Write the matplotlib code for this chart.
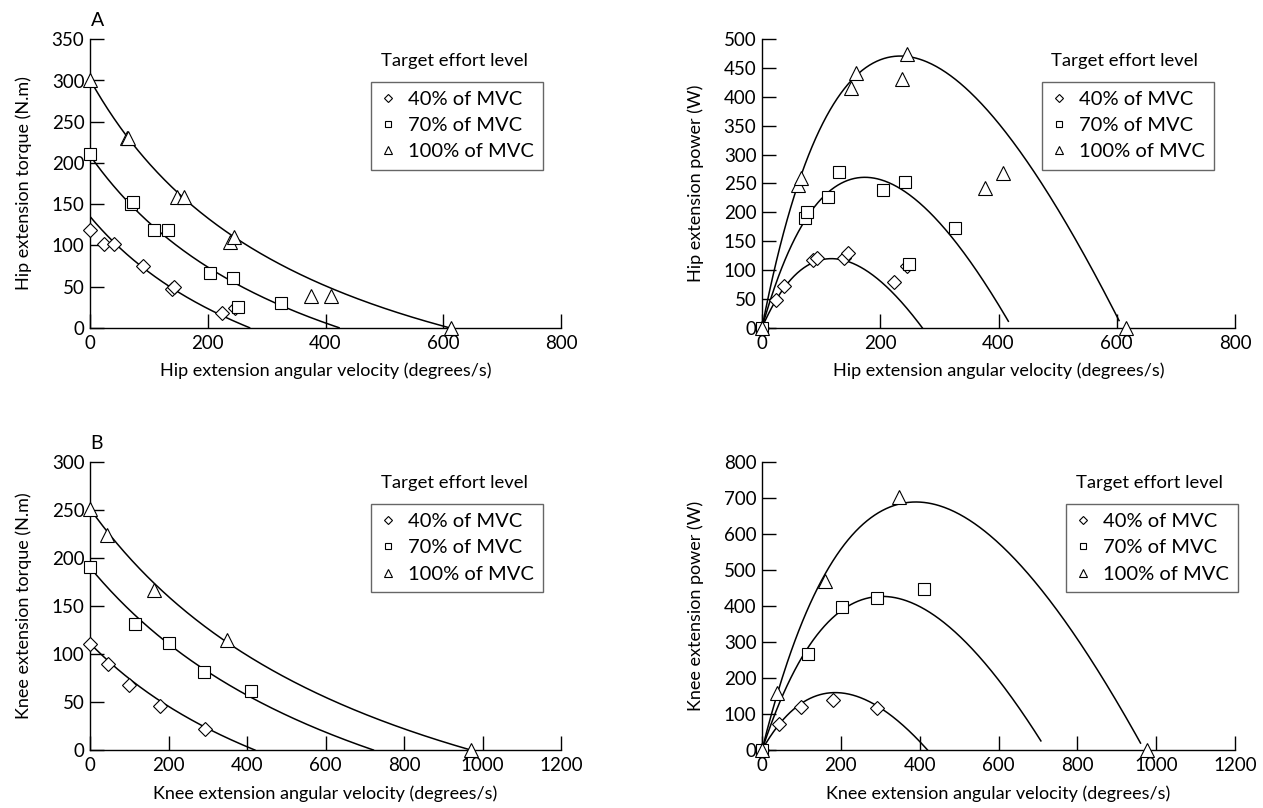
#!/usr/bin/env python3
"""Torque/power vs angular velocity for hip (A) and knee (B) extension."""
import numpy as np
import matplotlib
matplotlib.use("Agg")
import matplotlib.pyplot as plt
from matplotlib.lines import Line2D

plt.rcParams["font.family"] = ["Lato", "DejaVu Sans"]

LEVELS = ["40% of MVC", "70% of MVC", "100% of MVC"]
MARKERS = ["D", "s", "^"]
MSIZE = [7.3, 8, 9.5]

# hip torque (N.m) vs velocity (deg/s)
HIP_T_V = [[0, 24, 40, 90, 140, 143, 225, 246],
           [0, 70, 73, 109, 132, 204, 243, 251, 325],
           [0, 62, 65, 148, 160, 238, 245, 376, 409, 613]]
HIP_T = [[119, 102, 102, 75, 47, 50, 18, 24],
         [211, 150, 152, 118, 119, 66, 60, 25, 30],
         [301, 230, 230, 159, 159, 104, 110, 38, 38, 0]]
# hip power (W)
HIP_P_V = [[0, 23, 38, 87, 93, 139, 146, 224, 246],
           [0, 73, 76, 111, 131, 204, 242, 249, 326],
           [0, 61, 66, 150, 159, 237, 245, 377, 407, 615]]
HIP_P = [[0, 48, 72, 118, 121, 120, 130, 80, 107],
         [0, 191, 201, 227, 270, 238, 253, 110, 172],
         [0, 248, 260, 415, 442, 431, 474, 243, 269, 0]]
# knee torque
KNEE_T_V = [[0, 47, 100, 178, 293],
            [0, 115, 202, 291, 411],
            [0, 44, 164, 348, 970]]
KNEE_T = [[110, 89, 68, 46, 22],
          [190, 131, 111, 81, 61],
          [251, 224, 166, 114, 0]]
# knee power
KNEE_P_V = [[0, 43, 98, 179, 291],
            [0, 116, 202, 293, 412],
            [0, 37, 159, 347, 978]]
KNEE_P = [[0, 72, 118, 139, 116],
          [0, 266, 398, 421, 447],
          [0, 159, 469, 703, 0]]

# fitted Hill-type torque-velocity curves: T0, vmax, curvature
HIP_T0 = [135, 209, 301]
HIP_VMAX = [271, 423, 610]
HIP_C = [1.40, 0.95, 0.63]
HIP_PEND = [1.0, 0.985, 0.99]
KNEE_T0 = [111, 190, 251]
KNEE_VMAX = [420, 722, 970]
KNEE_C = [1.70, 1.14, 0.83]
KNEE_PEND = [1.0, 0.98, 0.99]


def hill(v, t0, vmax, c):
    x = v / vmax
    return t0 * (1 - x) / (1 + x / c)


def style(ax, xmax, ymax, ystep, xlabel, ylabel):
    ax.set_xlim(0, xmax)
    ax.set_ylim(0, ymax)
    ax.set_xticks(np.arange(0, xmax + 1, 200))
    ax.set_yticks(np.arange(0, ymax + 1, ystep))
    for s in ("top", "right"):
        ax.spines[s].set_visible(False)
    for s in ("left", "bottom"):
        ax.spines[s].set_linewidth(1.0)
    ax.tick_params(direction="in", length=10, width=1.0, labelsize=13.5)
    ax.tick_params(axis="x", pad=5)
    ax.tick_params(axis="y", pad=4)
    ax.set_xlabel(xlabel, fontsize=13, labelpad=8)
    ax.set_ylabel(ylabel, fontsize=13, labelpad=14)


def legend(ax, x, y):
    handles = [Line2D([], [], ls="none", marker=m, mfc="white", mec="black",
                      mew=0.8, ms=s * 0.6) for m, s in zip(MARKERS, MSIZE)]
    ax.text(x + 0.02, y + 0.072, "Target effort level", transform=ax.transAxes,
            fontsize=13.3, va="center", ha="left")
    lg = ax.legend(handles, LEVELS, loc="upper left", bbox_to_anchor=(x, y),
                   fontsize=14.5, frameon=True, fancybox=False, borderpad=0.45,
                   labelspacing=0.45, handlelength=0.8, handletextpad=0.6,
                   borderaxespad=0)
    lg.get_frame().set_edgecolor("0.25")
    lg.get_frame().set_linewidth(1.0)


def scatter(ax, xs, ys):
    for i in range(3):
        ax.plot(xs[i], ys[i], ls="none", marker=MARKERS[i], ms=MSIZE[i],
                mfc="white", mec="black", mew=0.8, clip_on=False, zorder=3)


fig = plt.figure(figsize=(12.63, 8.08), dpi=100)
W, H = 1263, 808
def add_ax(l, r, t, b):
    return fig.add_axes([l / W, 1 - b / H, (r - l) / W, (b - t) / H])

axA1 = add_ax(90, 561, 39.3, 327.7)
axA2 = add_ax(762, 1235, 39.3, 327.7)
axB1 = add_ax(90, 561, 461.7, 750)
axB2 = add_ax(762, 1235, 461.7, 750)

k = np.pi / 180
for i in range(3):
    v = np.linspace(0, HIP_VMAX[i], 300)
    axA1.plot(v, hill(v, HIP_T0[i], HIP_VMAX[i], HIP_C[i]), color="black", lw=1.1)
    v = np.linspace(0, HIP_VMAX[i] * HIP_PEND[i], 300)
    axA2.plot(v, hill(v, HIP_T0[i], HIP_VMAX[i], HIP_C[i]) * v * k,
              color="black", lw=1.1)
    v = np.linspace(0, KNEE_VMAX[i], 300)
    axB1.plot(v, hill(v, KNEE_T0[i], KNEE_VMAX[i], KNEE_C[i]), color="black", lw=1.1)
    v = np.linspace(0, KNEE_VMAX[i] * KNEE_PEND[i], 300)
    axB2.plot(v, hill(v, KNEE_T0[i], KNEE_VMAX[i], KNEE_C[i]) * v * k,
              color="black", lw=1.1)

scatter(axA1, HIP_T_V, HIP_T)
scatter(axA2, HIP_P_V, HIP_P)
scatter(axB1, KNEE_T_V, KNEE_T)
scatter(axB2, KNEE_P_V, KNEE_P)

style(axA1, 800, 350, 50, "Hip extension angular velocity (degrees/s)",
      "Hip extension torque (N.m)")
style(axA2, 800, 500, 50, "Hip extension angular velocity (degrees/s)",
      "Hip extension power (W)")
style(axB1, 1200, 300, 50, "Knee extension angular velocity (degrees/s)",
      "Knee extension torque (N.m)")
style(axB2, 1200, 800, 100, "Knee extension angular velocity (degrees/s)",
      "Knee extension power (W)")

legend(axA1, 0.597, 0.852)
legend(axA2, 0.592, 0.852)
legend(axB1, 0.597, 0.853)
legend(axB2, 0.643, 0.853)

fig.text(98 / W, 1 - 21 / H, "A", fontsize=14, ha="center", va="center")
fig.text(97 / W, 1 - 443 / H, "B", fontsize=14, ha="center", va="center")

fig.savefig("out.png", dpi=100, facecolor="white")
